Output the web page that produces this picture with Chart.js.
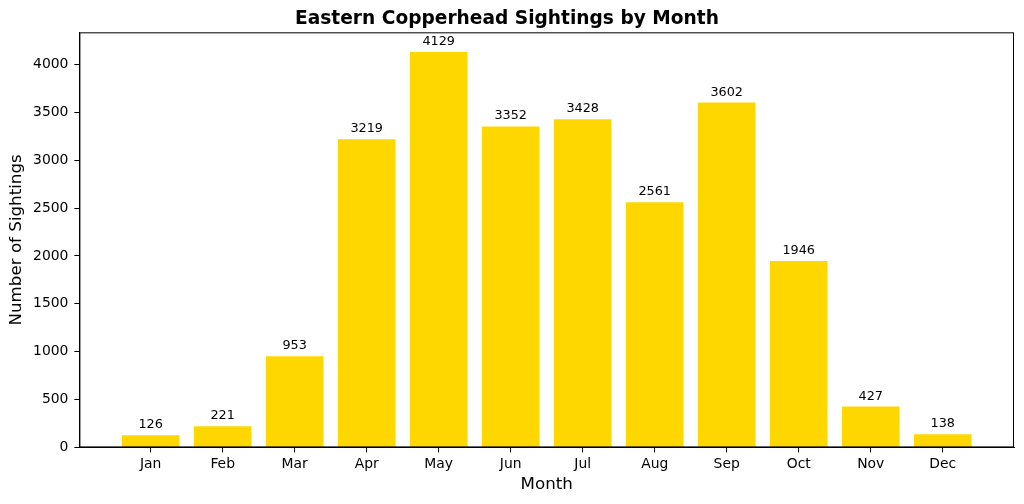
<!DOCTYPE html>
<html>
<head>
<meta charset="utf-8">
<script src="https://cdn.jsdelivr.net/npm/chart.js@4/dist/chart.umd.min.js"></script>
<style>
  html, body { margin: 0; padding: 0; background: #fff; }
  #wrap { width: 1024px; height: 504px; }
</style>
</head>
<body>
<div id="wrap"><canvas id="sightingsChart" width="1024" height="504"></canvas></div>
<script>
// chart data
const months = ['Jan', 'Feb', 'Mar', 'Apr', 'May', 'Jun', 'Jul', 'Aug', 'Sep', 'Oct', 'Nov', 'Dec'];
const sightings = [126, 221, 953, 3219, 4129, 3352, 3428, 2561, 3602, 1946, 427, 138];
const yTicks = [0, 500, 1000, 1500, 2000, 2500, 3000, 3500, 4000];

const font = "'DejaVu Sans', sans-serif";

// draws the value above each bar and the full box around the plot
const extras = {
  id: 'extras',
  afterDatasetsDraw(chart) {
    const ctx = chart.ctx;
    const meta = chart.getDatasetMeta(0);
    ctx.save();
    ctx.fillStyle = '#000';
    ctx.font = '12.8px ' + font;
    ctx.textAlign = 'center';
    ctx.textBaseline = 'alphabetic';
    meta.data.forEach((bar, i) => {
      ctx.fillText(String(sightings[i]), bar.x, bar.y - 7);
    });
    const a = chart.chartArea;
    ctx.strokeStyle = '#000';
    ctx.lineWidth = 1;
    ctx.strokeRect(a.left + 0.5, a.top + 0.5, a.right - a.left - 1, a.bottom - a.top - 1);
    ctx.restore();
  }
};

const ctx = document.getElementById('sightingsChart').getContext('2d');
new Chart(ctx, {
  type: 'bar',
  data: {
    datasets: [{
      data: sightings.map((v, i) => ({ x: i, y: v })),
      backgroundColor: '#FFD700',
      borderWidth: 0,
      categoryPercentage: 0.8,
      barPercentage: 1.0
    }]
  },
  options: {
    responsive: false,
    animation: false,
    events: [],
    layout: { padding: { top: 0, right: 10, bottom: 11, left: 0 } },
    plugins: {
      legend: { display: false },
      tooltip: { enabled: false },
      title: {
        display: true,
        text: 'Eastern Copperhead Sightings by Month',
        color: '#000',
        font: { family: font, size: 18.6, weight: 'bold' },
        padding: { top: 8, bottom: 2 }
      }
    },
    scales: {
      x: {
        type: 'linear',
        min: -0.99,
        max: 11.99,
        offset: false,
        afterBuildTicks: axis => { axis.ticks = months.map((m, i) => ({ value: i })); },
        ticks: {
          color: '#000',
          font: { family: font, size: 13.9, lineHeight: 1 },
          maxRotation: 0,
          autoSkip: false,
          padding: 5,
          callback: v => months[v]
        },
        grid: { offset: false, drawOnChartArea: false, drawTicks: true, tickLength: 5, color: '#000' },
        border: { display: true, color: '#000' },
        title: {
          display: true,
          text: 'Month',
          color: '#000',
          font: { family: font, size: 16.7, lineHeight: 1 },
          padding: { top: 0, bottom: 0 }
        }
      },
      y: {
        min: 0,
        max: 4335,
        afterBuildTicks: axis => { axis.ticks = yTicks.map(v => ({ value: v })); },
        ticks: {
          color: '#000',
          font: { family: font, size: 13.9 },
          padding: 6,
          callback: v => String(v)
        },
        grid: { drawOnChartArea: false, drawTicks: true, tickLength: 5, color: '#000' },
        border: { display: true, color: '#000' },
        title: {
          display: true,
          text: 'Number of Sightings',
          color: '#000',
          font: { family: font, size: 16.7 },
          padding: { top: 7, bottom: 0 }
        }
      }
    }
  },
  plugins: [extras]
});
</script>
</body>
</html>
